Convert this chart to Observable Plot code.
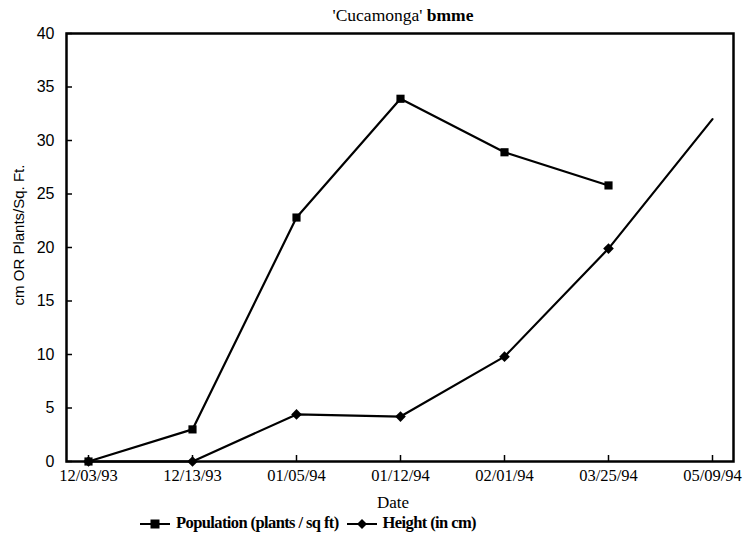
<!DOCTYPE html>
<html>
<head>
<meta charset="utf-8">
<script src="https://cdn.jsdelivr.net/npm/d3@7"></script>
<script src="https://cdn.jsdelivr.net/npm/@observablehq/plot@0.6"></script>
<style>
  body { margin: 0; background: #fff; }
  #wrap { position: relative; width: 756px; height: 544px; background: #fff; overflow: hidden; }
  #chart { position: absolute; left: 0; top: 0; }
  .abs { position: absolute; white-space: nowrap; color: #000; }
  #title { left: 403px; top: 15px; transform: translate(-50%, -50%); font-family: "Liberation Serif", serif; font-size: 17.5px; }
  #ylabel { left: 18px; top: 235px; transform: translate(-50%, -50%) rotate(-90deg); font-family: "Liberation Sans", sans-serif; font-size: 15px; }
  #xlabel { left: 393px; top: 503px; transform: translate(-50%, -50%); font-family: "Liberation Serif", serif; font-size: 17px; }
  #legend { left: 140px; top: 523px; transform: translateY(-50%); display: flex; align-items: center; font-family: "Liberation Serif", serif; font-size: 16.5px; font-weight: bold; letter-spacing: -0.6px; }
  #legend svg { margin-right: 6px; }
  #legend span { margin-right: 8px; }
</style>
</head>
<body>
<div id="wrap">
  <div id="chart"></div>
  <div id="title" class="abs">'Cucamonga' <b>bmme</b></div>
  <div id="ylabel" class="abs">cm OR Plants/Sq. Ft.</div>
  <div id="xlabel" class="abs">Date</div>
  <div id="legend" class="abs"></div>
</div>
<script>
// ---- data ----
const dates = ["12/03/93", "12/13/93", "01/05/94", "01/12/94", "02/01/94", "03/25/94", "05/09/94"];
const population = [0, 3.0, 22.8, 33.9, 28.9, 25.8, null];
const heightCm = [0, 0, 4.4, 4.2, 9.8, 19.9, 32];
const heightMarkerShown = [true, true, true, true, true, true, false];
const yTicks = [0, 5, 10, 15, 20, 25, 30, 35, 40];
const seriesNames = ["Population (plants / sq ft)", "Height (in cm)"];

const popRows = dates.map((d, i) => ({date: d, value: population[i]}));
const hRows = dates.map((d, i) => ({date: d, value: heightCm[i], shown: heightMarkerShown[i]}));

const W = 756, H = 492;
const mL = 66, mR = 23, mT = 33, mB = 31;
const frameW = W - mL - mR, frameH = H - mT - mB;

const chart = Plot.plot({
  width: W,
  height: H,
  marginLeft: mL,
  marginRight: mR,
  marginTop: mT,
  marginBottom: mB,
  style: {fontFamily: "Liberation Serif, serif", fontSize: "16px", color: "black", background: "white"},
  x: {type: "point", domain: dates, padding: 0.18},
  y: {domain: [0, 40]},
  marks: [
    Plot.axisY(yTicks, {tickSize: 0, tickPadding: 12, fontFamily: "Liberation Sans, sans-serif", fontSize: 16, label: null}),
    Plot.axisX({tickSize: 0, tickPadding: 8, fontSize: 16.5, label: null}),
    Plot.tickY(yTicks, {y: d => d, stroke: "black", strokeWidth: 1.5, insetRight: frameW - 6}),
    Plot.tickX(dates, {x: d => d, stroke: "black", strokeWidth: 1.5, insetTop: frameH - 6}),
    Plot.line(popRows, {x: "date", y: "value", stroke: "black", strokeWidth: 2.2}),
    Plot.line(hRows, {x: "date", y: "value", stroke: "black", strokeWidth: 2.2}),
    Plot.dot(popRows.filter(d => d.value != null), {x: "date", y: "value", symbol: "square", r: 4.6, fill: "black", stroke: "none"}),
    Plot.dot(hRows.filter(d => d.shown), {x: "date", y: "value", symbol: "diamond2", r: 4.8, fill: "black", stroke: "none"}),
    Plot.frame({stroke: "black", strokeWidth: 2.5})
  ]
});
document.getElementById("chart").appendChild(chart);

// legend
const legend = document.getElementById("legend");
const swatches = [
  `<svg width="30" height="12"><line x1="0" y1="7" x2="30" y2="7" stroke="black" stroke-width="2"/><rect x="10.5" y="2.5" width="9" height="9" fill="black"/></svg>`,
  `<svg width="30" height="12"><line x1="0" y1="7" x2="30" y2="7" stroke="black" stroke-width="2"/><path d="M15,2 L20,7 L15,12 L10,7 Z" fill="black"/></svg>`
];
seriesNames.forEach((name, i) => {
  legend.insertAdjacentHTML("beforeend", swatches[i] + `<span>${name}</span>`);
});
</script>
</body>
</html>
